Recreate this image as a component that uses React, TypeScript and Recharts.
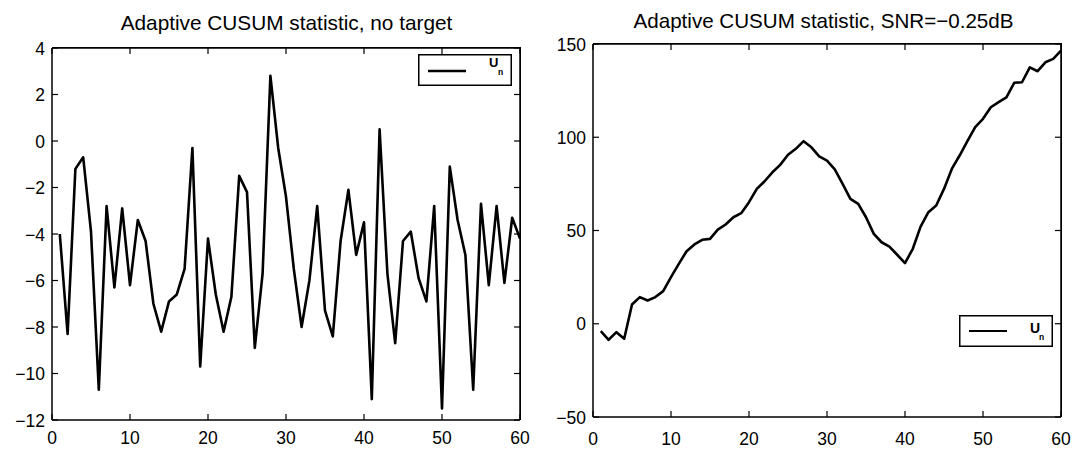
import { LineChart, Line, XAxis, YAxis, Legend } from 'recharts'

// sample index n = 1..60
const steps = [
  1, 2, 3, 4, 5, 6, 7, 8, 9, 10, 11, 12, 13, 14, 15, 16, 17, 18, 19, 20,
  21, 22, 23, 24, 25, 26, 27, 28, 29, 30, 31, 32, 33, 34, 35, 36, 37, 38, 39, 40,
  41, 42, 43, 44, 45, 46, 47, 48, 49, 50, 51, 52, 53, 54, 55, 56, 57, 58, 59, 60,
]

// U_n with no target present
const noTargetU = [
  -4.0, -8.3, -1.2, -0.7, -3.9, -10.7, -2.8, -6.3, -2.9, -6.2,
  -3.4, -4.3, -7.0, -8.2, -6.9, -6.6, -5.5, -0.3, -9.7, -4.2,
  -6.6, -8.2, -6.7, -1.5, -2.2, -8.9, -5.7, 2.8, -0.3, -2.4,
  -5.5, -8.0, -6.0, -2.8, -7.3, -8.4, -4.3, -2.1, -4.9, -3.5,
  -11.1, 0.5, -5.7, -8.7, -4.3, -3.9, -5.9, -6.9, -2.8, -11.5,
  -1.1, -3.4, -4.9, -10.7, -2.7, -6.2, -2.8, -6.1, -3.3, -4.2,
]

// U_n at SNR = -0.25 dB
const snrU = [
  -3.9, -8.6, -4.5, -8.0, 10.3, 14.3, 12.5, 14.3, 17.5, 25.0,
  32.1, 38.9, 42.5, 45.0, 45.5, 50.5, 53.2, 57.1, 59.3, 65.2,
  72.3, 76.4, 81.2, 85.2, 90.6, 93.8, 97.9, 94.6, 89.7, 87.5,
  82.8, 75.0, 67.0, 64.3, 57.1, 48.2, 43.7, 41.4, 37.0, 32.5,
  40.2, 52.1, 59.8, 63.4, 72.3, 83.0, 90.2, 97.9, 105.4, 109.9,
  116.1, 118.8, 121.4, 129.2, 129.5, 137.5, 135.4, 140.2, 142.0, 146.5,
]

const xTicks = [0, 10, 20, 30, 40, 50, 60]
const noTargetTicks = [-12, -10, -8, -6, -4, -2, 0, 2, 4]
const snrTicks = [-50, 0, 50, 100, 150]

const titles = [
  'Adaptive CUSUM statistic, no target',
  'Adaptive CUSUM statistic, SNR=\u22120.25dB',
]

const FONT = '"Liberation Sans", Arial, Helvetica, sans-serif'
const TICK_LEN = 6
const TICK_FONT = 17.5
const FRAME_W = 1.5

// space reserved for each axis; plot edges come from margin + these
const Y_AXIS_W = 40
const X_AXIS_H = 20
const EDGE = 15

const fmt = (v: number) => (v < 0 ? `\u2212${Math.abs(v)}` : `${v}`)

// inward tick marks, MATLAB style
const leftTick = (p: any) => (
  <g>
    <line x1={p.x} x2={p.x + TICK_LEN} y1={p.y} y2={p.y} stroke="#000" strokeWidth={1.2} />
    <text x={p.x - 7} y={p.y} dy={6.5} textAnchor="end" fontSize={TICK_FONT} fontFamily={FONT} fill="#000">
      {fmt(p.payload.value)}
    </text>
  </g>
)

const rightTick = (p: any) => (
  <line x1={p.x} x2={p.x - TICK_LEN} y1={p.y} y2={p.y} stroke="#000" strokeWidth={1.2} />
)

const topTick = (p: any) => (
  <line x1={p.x} x2={p.x} y1={p.y} y2={p.y + TICK_LEN} stroke="#000" strokeWidth={1.2} />
)

const makeBottomTick = (labelDy: number) => (p: any) => (
  <g>
    <line x1={p.x} x2={p.x} y1={p.y} y2={p.y - TICK_LEN} stroke="#000" strokeWidth={1.2} />
    <text x={p.x} y={p.y} dy={labelDy} textAnchor="middle" fontSize={TICK_FONT} fontFamily={FONT} fill="#000">
      {p.payload.value}
    </text>
  </g>
)

interface LegendStyle {
  lineY: number
  lineWidth: number
  uY: number
  nY: number
  uSize: number
}

function UnLegend({ lineY, lineWidth, uY, nY, uSize }: LegendStyle) {
  return (
    <svg width={94} height={32} style={{ display: 'block' }}>
      <rect x={0.75} y={0.75} width={92.5} height={30.5} fill="#fff" stroke="#000" strokeWidth={1.5} />
      <line x1={10} x2={48} y1={lineY} y2={lineY} stroke="#000" strokeWidth={lineWidth} />
      <text x={71} y={uY} fontSize={uSize} fontWeight="bold" fontFamily={FONT} fill="#000">U</text>
      <text x={80} y={nY} fontSize={8.5} fontWeight="bold" fontFamily={FONT} fill="#000">n</text>
    </svg>
  )
}

interface PanelProps {
  values: number[]
  yDomain: [number, number]
  yTicks: number[]
  left: number
  // plot box edges inside the 538x449 panel
  box: { top: number; right: number; bottom: number; left: number }
  xLabelDy: number
  legendPos: { left: number; top: number }
  legendStyle: LegendStyle
}

function Panel({ values, yDomain, yTicks, left, box, xLabelDy, legendPos, legendStyle }: PanelProps) {
  const rows = steps.map((n, i) => ({ n, u: values[i] }))
  const axisLine = { stroke: '#000', strokeWidth: FRAME_W }
  const margin = {
    top: box.top - EDGE,
    right: 538 - box.right - EDGE,
    bottom: 449 - box.bottom - X_AXIS_H,
    left: box.left - Y_AXIS_W,
  }
  return (
    <div style={{ position: 'absolute', left, top: 0, width: 538, height: 449 }}>
      <LineChart width={538} height={449} data={rows} margin={margin}>
        <XAxis
          xAxisId="bottom"
          dataKey="n"
          type="number"
          domain={[0, 60]}
          ticks={xTicks}
          allowDataOverflow
          height={X_AXIS_H}
          tickSize={0}
          tickMargin={0}
          axisLine={axisLine}
          tickLine={false}
          tick={makeBottomTick(xLabelDy)}
          interval={0}
        />
        <XAxis
          xAxisId="top"
          orientation="top"
          dataKey="n"
          type="number"
          domain={[0, 60]}
          ticks={xTicks}
          allowDataOverflow
          height={EDGE}
          tickSize={0}
          tickMargin={0}
          axisLine={axisLine}
          tickLine={false}
          tick={topTick}
          interval={0}
        />
        <YAxis
          yAxisId="left"
          type="number"
          domain={yDomain}
          ticks={yTicks}
          allowDataOverflow
          width={Y_AXIS_W}
          tickSize={0}
          tickMargin={0}
          axisLine={axisLine}
          tickLine={false}
          tick={leftTick}
          interval={0}
        />
        <YAxis
          yAxisId="right"
          orientation="right"
          type="number"
          domain={yDomain}
          ticks={yTicks}
          allowDataOverflow
          width={EDGE}
          tickSize={0}
          tickMargin={0}
          axisLine={axisLine}
          tickLine={false}
          tick={rightTick}
          interval={0}
        />
        <Legend
          layout="horizontal"
          verticalAlign="middle"
          align="center"
          wrapperStyle={{ left: legendPos.left, top: legendPos.top, width: 94, height: 32 }}
          content={() => <UnLegend {...legendStyle} />}
        />
        {/* same series on the top/right axes, unstroked, so those axes get drawn */}
        <Line
          xAxisId="top"
          yAxisId="right"
          dataKey="u"
          stroke="none"
          dot={false}
          activeDot={false}
          isAnimationActive={false}
        />
        <Line
          xAxisId="bottom"
          yAxisId="left"
          dataKey="u"
          type="linear"
          stroke="#000"
          strokeWidth={2.6}
          strokeLinejoin="round"
          dot={false}
          isAnimationActive={false}
        />
      </LineChart>
      {/* top and right edges of the plot box */}
      <div
        style={{
          position: 'absolute',
          left: box.left,
          top: box.top - FRAME_W / 2,
          width: box.right - box.left + FRAME_W / 2,
          height: box.bottom - box.top + FRAME_W / 2,
          borderTop: `${FRAME_W}px solid #000`,
          borderRight: `${FRAME_W}px solid #000`,
          boxSizing: 'border-box',
          pointerEvents: 'none',
        }}
      />
    </div>
  )
}

export default function App() {
  return (
    <div style={{ position: 'absolute', left: 0, top: 0, width: 1076, height: 449, background: '#fff' }}>
      <Panel
        values={noTargetU}
        yDomain={[-12, 4]}
        yTicks={noTargetTicks}
        left={0}
        box={{ top: 48, right: 520, bottom: 420, left: 52 }}
        xLabelDy={24}
        legendPos={{ left: 418, top: 54 }}
        legendStyle={{ lineY: 17, lineWidth: 2.6, uY: 13, nY: 21, uSize: 13 }}
      />
      <Panel
        values={snrU}
        yDomain={[-50, 150]}
        yTicks={snrTicks}
        left={538}
        box={{ top: 44, right: 523, bottom: 417, left: 55 }}
        xLabelDy={27.5}
        legendPos={{ left: 421, top: 315 }}
        legendStyle={{ lineY: 16, lineWidth: 1.8, uY: 18, nY: 25, uSize: 14 }}
      />
      <svg width={1076} height={40} style={{ position: 'absolute', left: 0, top: 0, pointerEvents: 'none' }}>
        <text x={286.5} y={30} textAnchor="middle" fontSize={20.8} fontFamily={FONT} fill="#000">{titles[0]}</text>
        <text x={823.5} y={28} textAnchor="middle" fontSize={20.6} fontFamily={FONT} fill="#000">{titles[1]}</text>
      </svg>
    </div>
  )
}
